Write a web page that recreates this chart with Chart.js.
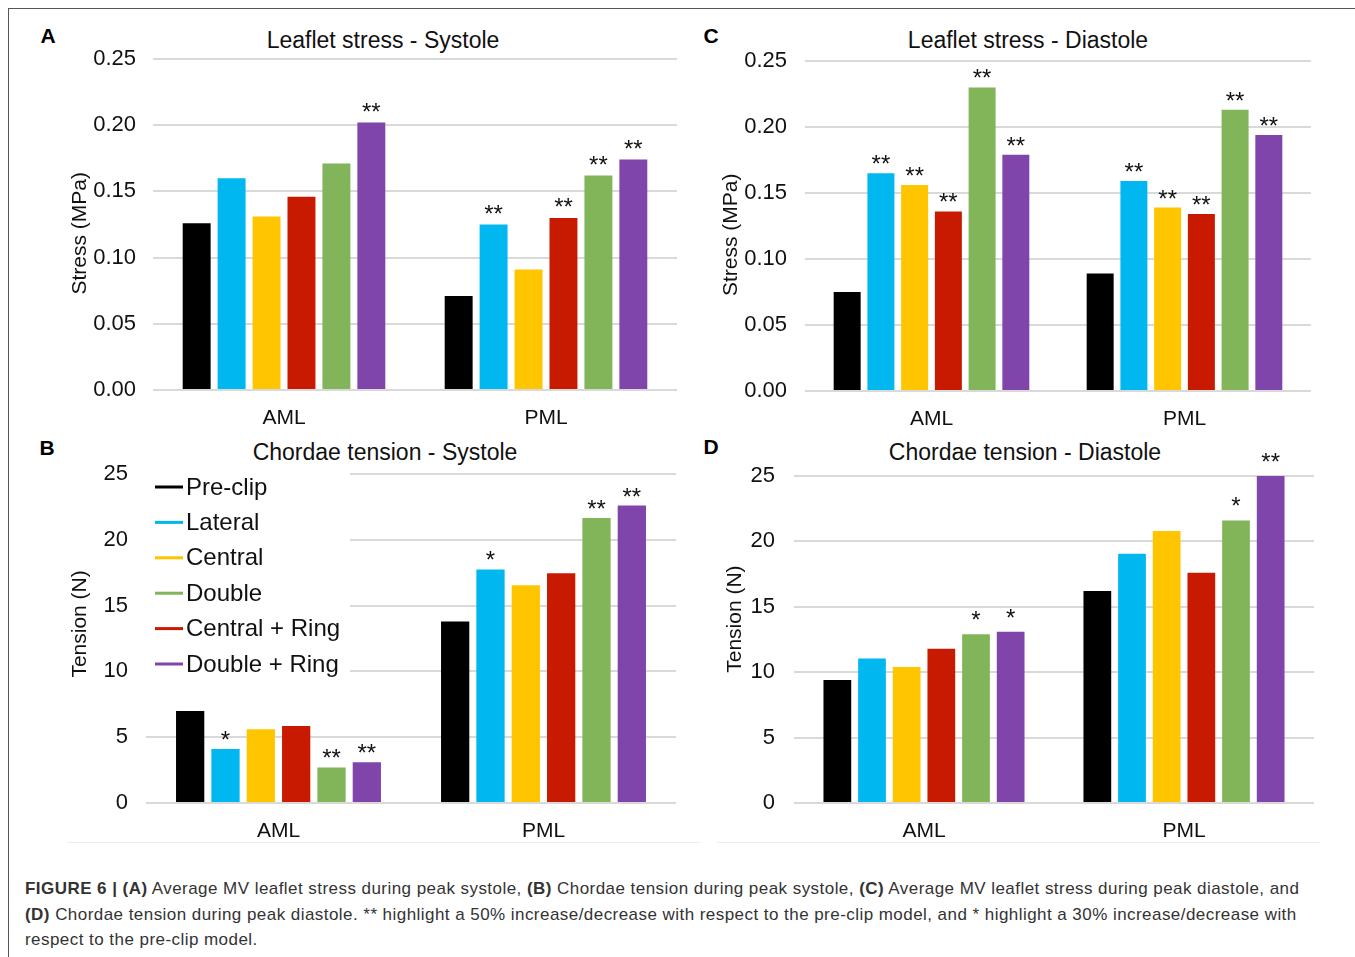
<!DOCTYPE html>
<html>
<head>
<meta charset="utf-8">
<script src="https://cdn.jsdelivr.net/npm/chart.js@4.4.0/dist/chart.umd.min.js"></script>
<style>
  body { margin: 0; background: #fff; font-family: "Liberation Sans", Arial, sans-serif; }
  #fig { position: relative; width: 1355px; height: 957px; overflow: hidden; }
  .frame { position: absolute; left: 8px; top: 8px; width: 1400px; height: 1000px;
           border-left: 1.5px solid #555; border-top: 1.5px solid #555; }
  canvas { position: absolute; }
  .ttl { position: absolute; font-size: 23px; color: #111; transform: translate(-50%, -50%); white-space: nowrap; }
  .let { position: absolute; font-size: 21px; font-weight: bold; color: #000; transform: translate(-50%, -50%); }
  .sep { position: absolute; height: 0; border-top: 1px solid #ececec; }
  .cap { position: absolute; left: 25px; top: 876px; font-size: 17px; letter-spacing: 0.45px;
         line-height: 25.5px; color: #333; white-space: nowrap; }
</style>
</head>
<body>
<div id="fig">
  <div class="frame"></div>

  <div class="let" style="left:48px; top:36px">A</div>
  <div class="let" style="left:711px; top:36px">C</div>
  <div class="let" style="left:47px; top:448px">B</div>
  <div class="let" style="left:711px; top:447px">D</div>

  <div class="ttl" style="left:383px; top:40px">Leaflet stress - Systole</div>
  <div class="ttl" style="left:1028px; top:40px">Leaflet stress - Diastole</div>
  <div class="ttl" style="left:385px; top:452px">Chordae tension - Systole</div>
  <div class="ttl" style="left:1025px; top:452px">Chordae tension - Diastole</div>

  <canvas id="chartA" width="627" height="418" style="left:50px; top:20px"></canvas>
  <canvas id="chartC" width="611" height="419" style="left:700px; top:20px"></canvas>
  <canvas id="chartB" width="626" height="411" style="left:50px; top:440px"></canvas>
  <canvas id="chartD" width="614" height="411" style="left:700px; top:440px"></canvas>

  <div class="sep" style="left:67px; top:842px; width:633px"></div>
  <div class="sep" style="left:717px; top:842px; width:603px"></div>

  <div class="cap">
    <b>FIGURE 6 | (A)</b> Average MV leaflet stress during peak systole, <b>(B)</b> Chordae tension during peak systole, <b>(C)</b> Average MV leaflet stress during peak diastole, and<br>
    <b>(D)</b> Chordae tension during peak diastole. ** highlight a 50% increase/decrease with respect to the pre-clip model, and * highlight a 30% increase/decrease with<br>
    respect to the pre-clip model.
  </div>
</div>

<script>
// categories and series (bar order)
const leaflets = ["AML", "PML"];
const seriesNames = ["Pre-clip", "Lateral", "Central", "Central + Ring", "Double", "Double + Ring"];
const seriesColors = ["#000000", "#00B7F0", "#FFC600", "#C81A00", "#82B45A", "#8045AB"];
const legendOrder = [0, 1, 2, 4, 3, 5]; // legend lists Double before Central + Ring

// A - leaflet stress, systole (MPa)
const stressSysAML = [0.126, 0.160, 0.131, 0.146, 0.171, 0.202];
const stressSysPML = [0.071, 0.125, 0.091, 0.130, 0.162, 0.174];
const starsSysAML = ["", "", "", "", "", "**"];
const starsSysPML = ["", "**", "", "**", "**", "**"];

// C - leaflet stress, diastole (MPa)
const stressDiaAML = [0.075, 0.165, 0.156, 0.136, 0.230, 0.179];
const stressDiaPML = [0.089, 0.159, 0.139, 0.134, 0.213, 0.194];
const starsDiaAML = ["", "**", "**", "**", "**", "**"];
const starsDiaPML = ["", "**", "**", "**", "**", "**"];

// B - chordae tension, systole (N)
const tensionSysAML = [7.0, 4.1, 5.6, 5.85, 2.7, 3.1];
const tensionSysPML = [13.8, 17.75, 16.55, 17.45, 21.65, 22.6];
const tStarsSysAML = ["", "*", "", "", "**", "**"];
const tStarsSysPML = ["", "*", "", "", "**", "**"];

// D - chordae tension, diastole (N)
const tensionDiaAML = [9.4, 11.05, 10.4, 11.8, 12.9, 13.1];
const tensionDiaPML = [16.2, 19.05, 20.8, 17.6, 21.6, 25.0];
const tStarsDiaAML = ["", "", "", "", "*", "*"];
const tStarsDiaPML = ["", "", "", "", "*", "**"];

Chart.defaults.font.family = '"Liberation Sans", Arial, sans-serif';
Chart.defaults.color = "#111";

// draws the * / ** marks above the bars
const starPlugin = {
  id: "stars",
  afterDatasetsDraw(chart, args, opts) {
    const ctx = chart.ctx;
    const lift = opts.lift || 0;
    ctx.save();
    ctx.font = '24px "Liberation Sans", Arial, sans-serif';
    ctx.fillStyle = "#111";
    ctx.textAlign = "center";
    ctx.textBaseline = "alphabetic";
    chart.data.datasets.forEach((ds, i) => {
      chart.getDatasetMeta(i).data.forEach((bar, j) => {
        const s = ds.stars[j];
        if (s) ctx.fillText(s, bar.x, bar.y - 1 - lift);
      });
    });
    ctx.restore();
  }
};

// legend sitting inside the plot area (panel B only)
const insideLegend = {
  id: "insideLegend",
  afterDatasetsDraw(chart, args, opts) {
    if (!opts.show) return;
    const ctx = chart.ctx;
    const area = chart.chartArea;
    ctx.save();
    ctx.fillStyle = "#fff";
    ctx.fillRect(area.left - 2, area.top - 8, 206, 219);
    ctx.font = '24px "Liberation Sans", Arial, sans-serif';
    ctx.textBaseline = "middle";
    ctx.textAlign = "left";
    legendOrder.forEach((idx, k) => {
      const ds = chart.data.datasets[idx];
      const y = area.top + 13 + k * 35.4;
      ctx.strokeStyle = ds.backgroundColor;
      ctx.lineWidth = 3;
      ctx.beginPath();
      ctx.moveTo(area.left + 9, y);
      ctx.lineTo(area.left + 37, y);
      ctx.stroke();
      ctx.fillStyle = "#111";
      ctx.fillText(ds.label, area.left + 40, y + 1);
    });
    ctx.restore();
  }
};

function buildChart(id, aml, pml, starsAml, starsPml, o) {
  const datasets = seriesNames.map((name, i) => ({
    label: name,
    data: [aml[i], pml[i]],
    stars: [starsAml[i], starsPml[i]],
    backgroundColor: seriesColors[i],
    barPercentage: 0.8,
    categoryPercentage: 0.8
  }));

  return new Chart(document.getElementById(id), {
    type: "bar",
    data: { labels: leaflets, datasets: datasets },
    plugins: [starPlugin, insideLegend],
    options: {
      responsive: false,
      animation: false,
      events: [],
      layout: { padding: { top: o.padTop, left: 0, right: 0, bottom: 0 } },
      plugins: {
        legend: { display: false },
        title: { display: false },
        tooltip: { enabled: false },
        stars: { lift: o.starLift },
        insideLegend: { show: !!o.legend }
      },
      scales: {
        x: {
          grid: { display: false },
          border: { display: false },
          ticks: { font: { size: 21 }, padding: 8, color: "#111" },
          afterFit(scale) { scale.height = 48; }
        },
        y: {
          min: 0,
          max: o.max,
          ticks: {
            stepSize: o.step,
            font: { size: 22 },
            padding: o.tickPad,
            color: "#111",
            callback: o.fmt
          },
          grid: { color: "#d9d9d9", lineWidth: 2, drawTicks: false },
          border: { display: false },
          title: {
            display: true,
            // padding spaces nudge the rotated title off the axis centre, as in the figure
            text: o.yTitle,
            font: { size: 21 },
            color: "#111",
            padding: { top: o.titlePad, bottom: 0 }
          },
          afterFit(scale) { scale.width = o.yWidth; }
        }
      }
    }
  });
}

const fmtStress = v => v.toFixed(2);
const fmtTension = v => String(v);
const nb = n => "\u00a0".repeat(n);

buildChart("chartA", stressSysAML, stressSysPML, starsSysAML, starsSysPML, {
  padTop: 39, max: 0.25, step: 0.05, fmt: fmtStress, yTitle: "Stress (MPa)" + nb(3),
  yWidth: 103, tickPad: 17, titlePad: 17.4, starLift: 2
});
buildChart("chartC", stressDiaAML, stressDiaPML, starsDiaAML, starsDiaPML, {
  padTop: 41, max: 0.25, step: 0.05, fmt: fmtStress, yTitle: "Stress (MPa)" + nb(3),
  yWidth: 105, tickPad: 18, titlePad: 18.4, starLift: 0
});
buildChart("chartB", tensionSysAML, tensionSysPML, tStarsSysAML, tStarsSysPML, {
  padTop: 34, max: 25, step: 5, fmt: fmtTension, yTitle: nb(5) + "Tension (N)",
  yWidth: 96, tickPad: 18, titlePad: 17.4, starLift: 0, legend: true
});
buildChart("chartD", tensionDiaAML, tensionDiaPML, tStarsDiaAML, tStarsDiaPML, {
  padTop: 36, max: 25, step: 5, fmt: fmtTension, yTitle: nb(7) + "Tension (N)",
  yWidth: 94, tickPad: 19, titlePad: 22.4, starLift: 5
});
</script>
</body>
</html>
